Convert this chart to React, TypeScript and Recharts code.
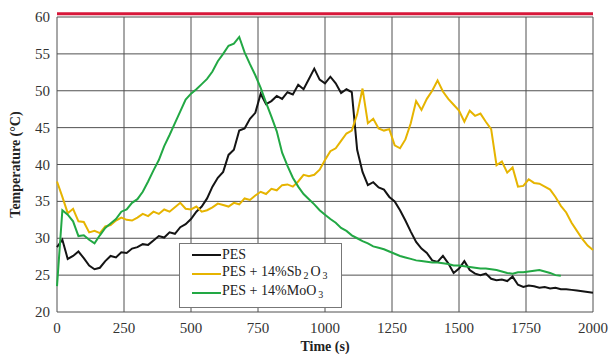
import React from "react";
import { LineChart, Line, XAxis, YAxis, CartesianGrid, Legend, ReferenceLine, Label } from "recharts";

const times = [
  0, 20, 40, 60, 80, 100, 120, 140, 160, 180, 200, 220, 240, 260, 280, 300, 320, 340, 360, 380,
  400, 420, 440, 460, 480, 500, 520, 540, 560, 580, 600, 620, 640, 660, 680, 700, 720, 740, 760, 780,
  800, 820, 840, 860, 880, 900, 920, 940, 960, 980, 1000, 1020, 1040, 1060, 1080, 1100, 1120, 1140, 1160, 1180,
  1200, 1220, 1240, 1260, 1280, 1300, 1320, 1340, 1360, 1380, 1400, 1420, 1440, 1460, 1480, 1500, 1520, 1540, 1560, 1580,
  1600, 1620, 1640, 1660, 1680, 1700, 1720, 1740, 1760, 1780, 1800, 1820, 1840, 1860, 1880, 1900, 1920, 1940, 1960, 1980, 2000,
];

const pes = [
  28.8, 29.8, 27.2, 27.6, 28.2, 27.3, 26.3, 25.8, 26.0, 26.9, 27.6, 27.4, 28.1, 28.0, 28.6, 28.8, 29.2, 29.1, 29.7, 30.3,
  30.1, 30.8, 30.6, 31.5, 31.9, 32.6, 33.6, 34.3, 35.4, 37.0, 38.2, 39.0, 41.3, 42.0, 44.6, 44.9, 46.2, 47.0, 49.6, 48.2,
  48.6, 49.3, 48.9, 49.8, 49.5, 50.8, 50.2, 51.6, 53.0, 51.5, 51.0, 51.9, 51.0, 49.7, 50.2, 49.8, 42.0, 39.0, 37.2, 37.6,
  36.9, 36.6, 35.6, 35.0, 33.8, 32.4, 30.9, 29.5, 28.6, 28.0, 27.0, 26.8, 27.6, 26.6, 25.3, 25.9, 26.9, 25.7, 25.2, 25.0,
  25.2, 24.5, 24.3, 24.4, 24.2, 24.8, 23.7, 23.4, 23.6, 23.5, 23.3, 23.4, 23.2, 23.3, 23.1, 23.1, 23.0, 22.9, 22.8, 22.7, 22.6,
];

const sb2o3 = [
  37.7, 35.6, 33.4, 34.0, 32.3, 32.2, 30.8, 31.0, 30.7, 31.6, 31.8, 32.4, 32.8, 32.5, 32.4, 32.8, 33.3, 33.0, 33.6, 33.3,
  33.9, 33.6, 34.2, 34.8, 34.0, 33.9, 34.3, 33.6, 33.8, 34.2, 34.7, 34.5, 34.3, 34.8, 34.6, 35.4, 35.2, 35.8, 36.3, 36.0,
  36.7, 36.5, 37.2, 37.3, 37.0, 37.7, 38.6, 38.4, 38.6, 39.3, 40.6, 41.8, 42.2, 43.2, 44.2, 44.6, 46.8, 50.3, 45.6, 46.2,
  44.9, 44.6, 44.8, 42.6, 42.2, 43.4, 45.6, 48.6, 47.4, 48.9, 50.0, 51.4, 49.9, 48.9, 48.1, 47.3, 45.8, 47.3, 46.6, 46.9,
  45.8, 44.8, 39.9, 40.4, 38.9, 39.6, 37.0, 37.1, 38.0, 37.5, 37.4, 37.0, 36.6, 35.6, 34.4, 33.5, 32.1, 31.0, 29.9, 29.0, 28.4,
];

const moo3 = [
  23.5, 33.8, 33.2, 32.3, 30.3, 30.4, 29.8, 29.3, 30.4, 31.4, 32.0, 32.6, 33.6, 33.9, 34.8, 35.3, 36.3, 37.7, 39.2, 40.6,
  42.5, 44.0, 45.6, 47.2, 48.8, 49.6, 50.2, 50.9, 51.6, 52.6, 54.0, 55.0, 56.1, 56.4, 57.3, 55.2, 53.6, 52.1, 50.4, 48.4,
  46.5, 44.5, 41.6, 39.8, 38.2, 37.0, 36.0, 35.3, 34.6, 33.8, 33.2, 32.6, 32.1, 31.4, 31.0, 30.4, 30.0, 29.6, 29.3, 28.9,
  28.7, 28.5, 28.2, 27.9, 27.6, 27.4, 27.2, 27.0, 26.9, 26.8, 26.7, 26.7, 26.6, 26.5, 26.3, 26.3, 26.2, 26.1, 26.0, 25.9,
  25.9, 25.8, 25.7, 25.5, 25.3, 25.2, 25.4, 25.4, 25.5, 25.6, 25.7, 25.5, 25.3, 25.0, 24.9, null, null, null, null, null, null,
];

const xTicks = [0, 250, 500, 750, 1000, 1250, 1500, 1750, 2000];
const yTicks = [20, 25, 30, 35, 40, 45, 50, 55, 60];
const topLimit = 60.45;

const seriesNames = ["PES", "PES + 14%Sb2O3", "PES + 14%MoO3"];
const seriesColors = ["#141414", "#E6B400", "#22A844"];

const data = times.map((t, i) => ({ t, pes: pes[i], sb: sb2o3[i], mo: moo3[i] }));

const serif = '"Liberation Serif", "Times New Roman", serif';

function renderName(name: string) {
  const m = name.match(/^(.*?)(Sb|Mo)(2)?O(3)$/);
  if (!m) return name;
  return (
    <>
      {m[1]}
      {m[2]}
      {m[3] ? <sub style={{ fontSize: 10, verticalAlign: "-3px", margin: "0 2px" }}>{m[3]}</sub> : null}
      O
      <sub style={{ fontSize: 10, verticalAlign: "-3px", marginLeft: 2 }}>{m[4]}</sub>
    </>
  );
}

const LegendBox = () => (
  <div
    style={{
      boxSizing: "border-box",
      width: 163,
      height: 65,
      border: "1px solid #777",
      background: "#fff",
      paddingTop: 1,
      fontFamily: serif,
      fontSize: 14,
      color: "#222",
    }}
  >
    {seriesNames.map((n, i) => (
      <div key={n} style={{ display: "flex", alignItems: "center", height: 19, lineHeight: "19px" }}>
        <svg width={42} height={19} style={{ flex: "none" }}>
          <line x1={12} x2={41} y1={10} y2={10} stroke={seriesColors[i]} strokeWidth={2} />
        </svg>
        <span style={{ whiteSpace: "nowrap" }}>{renderName(n)}</span>
      </div>
    ))}
  </div>
);

const XTick = (props: any) => {
  const { x, y, payload } = props;
  return (
    <text x={x} y={y + 15} textAnchor="middle" fontFamily={serif} fontSize={15} fill="#333">
      {payload.value}
    </text>
  );
};

const YTick = (props: any) => {
  const { x, y, payload } = props;
  return (
    <text x={x + 1} y={y + 5} textAnchor="end" fontFamily={serif} fontSize={15} fill="#333">
      {payload.value}
    </text>
  );
};

export default function App() {
  return (
    <div style={{ position: "absolute", left: 0, top: 0, width: 609, height: 354, background: "#fff", fontFamily: serif }}>
      <LineChart
        width={609}
        height={354}
        data={data}
        margin={{ top: 17, right: 16, bottom: 0, left: 0 }}
        style={{ fontFamily: serif }}
      >
        <CartesianGrid stroke="#505050" strokeWidth={1} />
        <XAxis
          dataKey="t"
          type="number"
          domain={[0, 2000]}
          ticks={xTicks}
          axisLine={false}
          tickLine={false}
          tickMargin={0}
          height={42}
          tick={<XTick />}
        >
          <Label
            value="Time (s)"
            position="insideBottom"
            offset={3}
            style={{ fontFamily: serif, fontSize: 14, fontWeight: "bold", fill: "#222" }}
          />
        </XAxis>
        <YAxis
          type="number"
          domain={[20, 60]}
          ticks={yTicks}
          axisLine={false}
          tickLine={false}
          width={57}
          tick={<YTick />}
        >
          <Label
            value="Temperature (°C)"
            angle={-90}
            position="insideLeft"
            offset={15}
            style={{ textAnchor: "middle", fontFamily: serif, fontSize: 14, fontWeight: "bold", fill: "#222" }}
          />
        </YAxis>
        <ReferenceLine y={topLimit} stroke="#D8173A" strokeWidth={3} ifOverflow="visible" />
        <Line dataKey="pes" name={seriesNames[0]} stroke={seriesColors[0]} strokeWidth={2} dot={false} isAnimationActive={false} />
        <Line dataKey="sb" name={seriesNames[1]} stroke={seriesColors[1]} strokeWidth={2} dot={false} isAnimationActive={false} />
        <Line dataKey="mo" name={seriesNames[2]} stroke={seriesColors[2]} strokeWidth={2} dot={false} isAnimationActive={false} connectNulls={false} />
        <Legend
          layout="vertical"
          align="center"
          verticalAlign="middle"
          content={<LegendBox />}
          wrapperStyle={{ left: 179, top: 243, width: 163, height: 65 }}
        />
      </LineChart>
    </div>
  );
}
